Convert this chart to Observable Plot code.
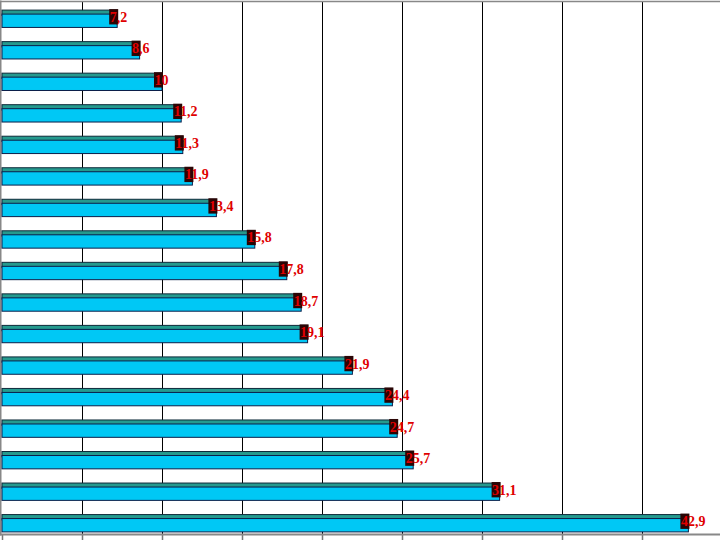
<!DOCTYPE html>
<html>
<head>
<meta charset="utf-8">
<script src="https://cdn.jsdelivr.net/npm/d3@7"></script>
<script src="https://cdn.jsdelivr.net/npm/@observablehq/plot@0.6"></script>
<style>
  html, body { margin: 0; padding: 0; background: #fff; }
  #chart svg { display: block; }
</style>
</head>
<body>
<div id="chart"></div>
<script>
const categories = ["A","B","C","D","E","F","G","H","I","J","K","L","M","N","O","P","Q"];
const values = [7.2, 8.6, 10, 11.2, 11.3, 11.9, 13.4, 15.8, 17.8, 18.7, 19.1, 21.9, 24.4, 24.7, 25.7, 31.1, 42.9];
const labels = ["7,2","8,6","10","11,2","11,3","11,9","13,4","15,8","17,8","18,7","19,1","21,9","24,4","24,7","25,7","31,1","42,9"];
const gridTicks = [0, 5, 10, 15, 20, 25, 30, 35, 40];

const data = categories.map((c, i) => ({cat: c, value: values[i], label: labels[i]}));

const chart = Plot.plot({
  width: 720,
  height: 540,
  marginTop: 1,
  marginBottom: 6,
  marginLeft: 0,
  marginRight: 0,
  style: {background: "#fff"},
  x: {domain: [-0.125, 44.875], axis: null, label: null},
  y: {domain: categories, range: [3, 539], paddingInner: 0.45, paddingOuter: 0.225, round: false, axis: null},
  marks: [
    Plot.gridX(gridTicks.slice(1), {stroke: "#000", strokeOpacity: 1, strokeWidth: 1}),
    Plot.axisX(gridTicks, {tickSize: 6, tickFormat: () => "", label: null, stroke: "#777", strokeWidth: 1.5}),
    Plot.frame({anchor: "bottom", stroke: "#888", strokeWidth: 2}),
    Plot.frame({anchor: "top", stroke: "#888", strokeWidth: 1.5}),
    Plot.frame({anchor: "left", stroke: "#888", strokeWidth: 2}),
    // top darker strip (3D top face)
    Plot.barX(data, {y: "cat", x1: 0, x2: "value", fill: "#259a8e", stroke: "#0e2a3a", strokeWidth: 1, insetBottom: 12}),
    // main body
    Plot.barX(data, {y: "cat", x1: 0, x2: "value", fill: "#00c8f5", stroke: "#0b1f4a", strokeWidth: 1, insetTop: 4}),
    // dark end cap box
    Plot.barX(data, {y: "cat", x1: "value", x2: "value", fill: "#2a0505", insetLeft: -8, insetRight: -1, insetTop: -1, insetBottom: 3}),
    Plot.text(data, {y: "cat", x: "value", text: "label", textAnchor: "start", dx: -8, dy: -2,
      fill: "#e00000", fontFamily: "Liberation Serif, Times New Roman, serif", fontWeight: "bold", fontSize: 14})
  ]
});
document.getElementById("chart").appendChild(chart);
</script>
</body>
</html>
